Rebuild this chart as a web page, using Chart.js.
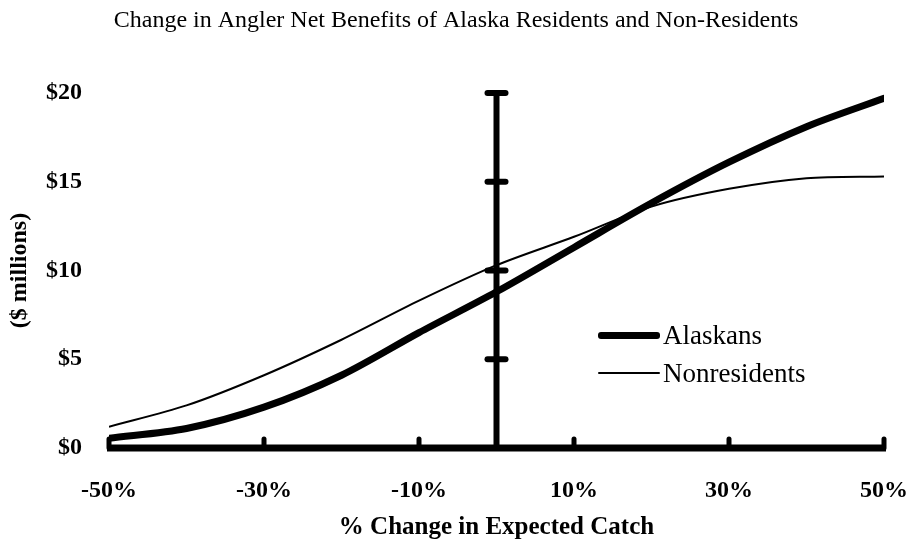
<!DOCTYPE html>
<html>
<head>
<meta charset="utf-8">
<script src="https://cdn.jsdelivr.net/npm/chart.js@4.4.1/dist/chart.umd.min.js"></script>
<style>
  body { margin: 0; background: #fff; }
  #wrap { position: relative; width: 912px; height: 547px; }
  #legend { position: absolute; left: 598px; top: 316px; font-family: "Liberation Serif", serif; font-size: 27px; color: #000; }
  .row { display: flex; align-items: center; height: 38px; }
  .swatch { width: 62px; background: #000; border-radius: 3px; margin-right: 3px; }
</style>
</head>
<body>
<div id="wrap">
  <canvas id="chart" width="912" height="547"></canvas>
  <div id="legend"></div>
</div>
<script>
// data
const catchChange = [-50, -40, -30, -20, -10, 0, 10, 20, 30, 40, 50];
const alaskans = [0.55, 1.1, 2.3, 4.1, 6.5, 8.8, 11.3, 13.8, 16.1, 18.1, 19.7];
const nonresidents = [1.2, 2.4, 4.1, 6.1, 8.3, 10.3, 11.9, 13.6, 14.6, 15.2, 15.3];
const xTicks = [-50, -30, -10, 10, 30, 50];
const yTicks = [0, 5, 10, 15, 20];

const FONT = "'Liberation Serif', 'Times New Roman', serif";
Chart.defaults.color = "#000";

// thick cross axes with their little tick marks
const crossAxes = {
  id: "crossAxes",
  beforeDatasetsDraw(chart) {
    const { ctx, scales: { x, y } } = chart;
    const y0 = y.getPixelForValue(0);
    const x0 = x.getPixelForValue(0);
    ctx.save();
    ctx.strokeStyle = "#000";

    // horizontal axis
    ctx.lineCap = "butt";
    ctx.lineWidth = 7;
    ctx.beginPath();
    ctx.moveTo(x.getPixelForValue(xTicks[0]) - 2, y0);
    ctx.lineTo(x.getPixelForValue(xTicks[xTicks.length - 1]) + 2, y0);
    ctx.stroke();

    ctx.lineCap = "round";
    ctx.lineWidth = 5;
    xTicks.forEach(v => {
      const px = x.getPixelForValue(v);
      ctx.beginPath();
      ctx.moveTo(px, y0);
      ctx.lineTo(px, y0 - 9);
      ctx.stroke();
    });

    // vertical axis at 0%
    ctx.lineCap = "butt";
    ctx.lineWidth = 6;
    ctx.beginPath();
    ctx.moveTo(x0, y0);
    ctx.lineTo(x0, y.getPixelForValue(yTicks[yTicks.length - 1]));
    ctx.stroke();

    ctx.lineCap = "round";
    ctx.lineWidth = 6;
    yTicks.slice(1).forEach(v => {
      const py = y.getPixelForValue(v);
      ctx.beginPath();
      ctx.moveTo(x0 - 9, py);
      ctx.lineTo(x0 + 9, py);
      ctx.stroke();
    });
    ctx.restore();
  }
};

const chart = new Chart(document.getElementById("chart"), {
  type: "line",
  data: {
    datasets: [
      {
        label: "Alaskans",
        data: catchChange.map((c, i) => ({ x: c, y: alaskans[i] })),
        borderColor: "#000",
        borderWidth: 7,
        pointRadius: 0,
        tension: 0.3,
        borderCapStyle: "round"
      },
      {
        label: "Nonresidents",
        data: catchChange.map((c, i) => ({ x: c, y: nonresidents[i] })),
        borderColor: "#000",
        borderWidth: 2,
        pointRadius: 0,
        tension: 0.3
      }
    ]
  },
  options: {
    responsive: false,
    animation: false,
    layout: { padding: 0 },
    plugins: {
      legend: { display: false },
      tooltip: { enabled: false },
      title: {
        display: true,
        text: "Change in Angler Net Benefits of Alaska Residents and Non-Residents",
        font: { family: FONT, size: 24, weight: "normal" },
        padding: { top: 6, bottom: 58.2 }
      }
    },
    scales: {
      x: {
        type: "linear",
        min: -50,
        max: 50,
        afterBuildTicks: s => { s.ticks = xTicks.map(v => ({ value: v })); },
        // keep the plot edge at a fixed place, room for the last label
        afterFit: s => { s.height = 99; s.paddingLeft = 0; s.paddingRight = 28; },
        grid: { display: false, drawTicks: false },
        border: { display: false },
        ticks: {
          callback: v => v + "%",
          font: { family: FONT, size: 24, weight: "bold" },
          padding: 28,
          maxRotation: 0
        },
        title: {
          display: true,
          text: "% Change in Expected Catch",
          font: { family: FONT, size: 25, weight: "bold" },
          padding: { top: 0, bottom: 4 }
        }
      },
      y: {
        min: 0,
        max: 20,
        afterBuildTicks: s => { s.ticks = yTicks.map(v => ({ value: v })); },
        afterFit: s => { s.width = 109; s.paddingTop = 0; s.paddingBottom = 0; },
        grid: { display: false, drawTicks: false },
        border: { display: false },
        ticks: {
          callback: v => "$" + v,
          font: { family: FONT, size: 24, weight: "bold" },
          padding: 27
        },
        title: {
          display: true,
          text: "($ millions)",
          font: { family: FONT, size: 24, weight: "bold" },
          padding: { top: 5, bottom: 0 }
        }
      }
    }
  },
  plugins: [crossAxes]
});

// legend placed inside the plot, like the original
const legend = document.getElementById("legend");
chart.data.datasets.forEach(ds => {
  const row = document.createElement("div");
  row.className = "row";
  const sw = document.createElement("span");
  sw.className = "swatch";
  sw.style.height = ds.borderWidth + "px";
  const txt = document.createElement("span");
  txt.textContent = ds.label;
  row.appendChild(sw);
  row.appendChild(txt);
  legend.appendChild(row);
});
</script>
</body>
</html>
